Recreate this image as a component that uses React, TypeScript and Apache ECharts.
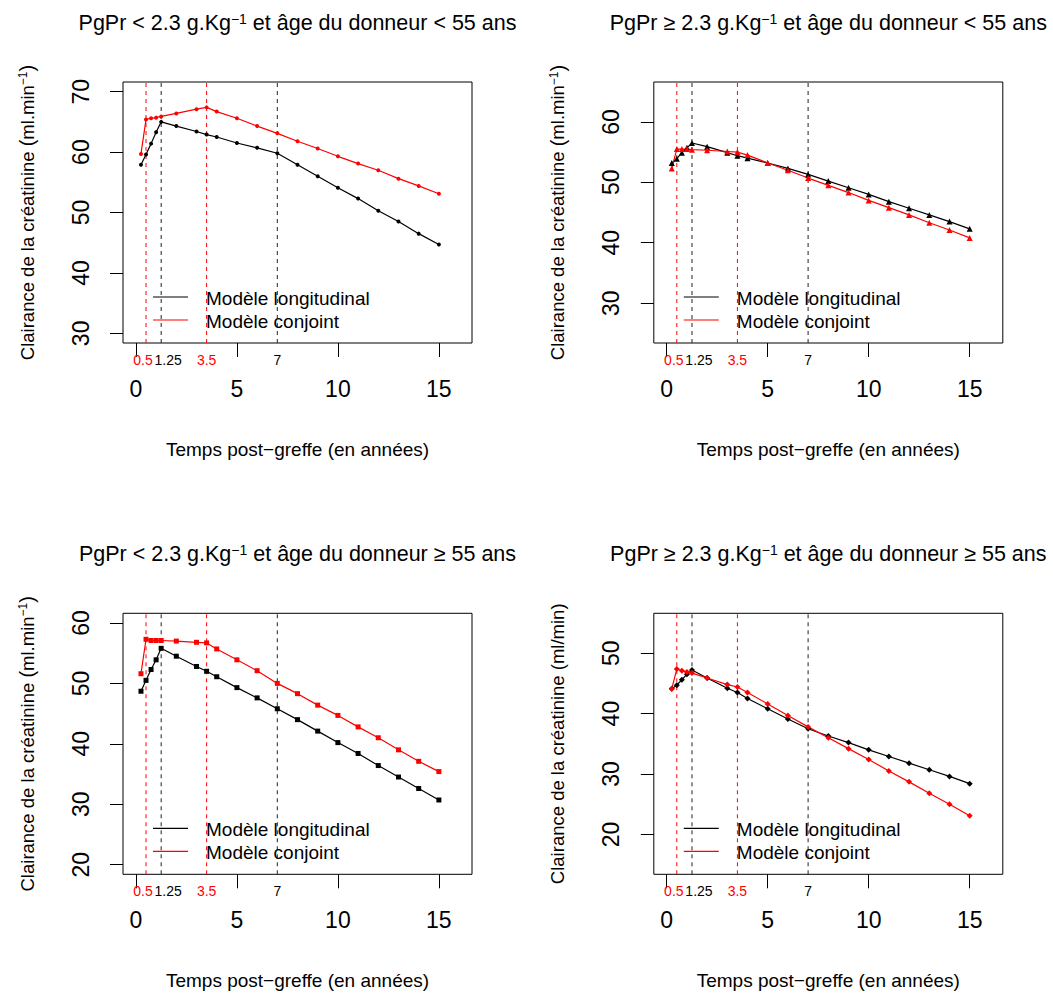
import React, { useEffect, useRef } from 'react';
import * as echarts from 'echarts';

// ---------------- data ----------------
const times = [0.25, 0.5, 0.75, 1, 1.25, 2, 3, 3.5, 4, 5, 6, 7, 8, 9, 10, 11, 12, 13, 14, 15];

const longitudinal1 = [57.9, 59.6, 61.4, 63.3, 65.0, 64.3, 63.4, 62.9, 62.5, 61.5, 60.7, 59.8, 57.9, 56.0, 54.1, 52.3, 50.3, 48.5, 46.5, 44.7];
const conjoint1 = [59.7, 65.4, 65.6, 65.7, 65.9, 66.4, 67.1, 67.4, 66.7, 65.6, 64.3, 63.1, 61.8, 60.6, 59.3, 58.1, 57.0, 55.6, 54.4, 53.1];
const longitudinal2 = [53.2, 53.9, 54.9, 55.7, 56.5, 55.9, 54.9, 54.4, 54.0, 53.2, 52.3, 51.3, 50.2, 49.1, 48.0, 46.8, 45.7, 44.6, 43.5, 42.3];
const conjoint2 = [52.3, 55.5, 55.5, 55.5, 55.4, 55.3, 55.1, 55.0, 54.5, 53.2, 52.0, 50.7, 49.5, 48.3, 47.0, 45.8, 44.6, 43.3, 42.1, 40.8];
const longitudinal3 = [48.7, 50.5, 52.3, 53.9, 55.8, 54.5, 52.8, 52.0, 51.1, 49.3, 47.6, 45.8, 44.0, 42.1, 40.2, 38.4, 36.4, 34.5, 32.6, 30.7];
const conjoint3 = [51.6, 57.3, 57.1, 57.1, 57.1, 57.0, 56.8, 56.7, 55.7, 53.9, 52.1, 50.0, 48.3, 46.4, 44.7, 42.8, 41.0, 39.0, 37.1, 35.4];
const longitudinal4 = [44.1, 44.7, 45.6, 46.5, 47.2, 45.9, 44.2, 43.5, 42.5, 40.8, 39.1, 37.5, 36.3, 35.2, 34.0, 32.9, 31.8, 30.7, 29.6, 28.4];
const conjoint4 = [44.1, 47.4, 47.1, 46.9, 46.7, 45.9, 44.8, 44.4, 43.5, 41.6, 39.7, 37.8, 36.0, 34.2, 32.4, 30.5, 28.7, 26.8, 25.0, 23.1];

const longitudinalSeries = [longitudinal1, longitudinal2, longitudinal3, longitudinal4];
const conjointSeries = [conjoint1, conjoint2, conjoint3, conjoint4];

const seriesNames = ['Modèle longitudinal', 'Modèle conjoint'];
const jointKnots = [0.5, 3.5];
const longKnots = [1.25, 7];

const xDomain = [0, 16];
const yDomains = [[30, 70], [25, 65], [20, 60], [15, 55]];
const xTickValues = [0, 5, 10, 15];
const yTickValues = [
  [30, 40, 50, 60, 70],
  [30, 40, 50, 60],
  [20, 30, 40, 50, 60],
  [20, 30, 40, 50],
];

const pgprSigns = ['<', '≥', '<', '≥'];
const ageSigns = ['<', '<', '≥', '≥'];
const yUnitBase = ['ml.min', 'ml.min', 'ml.min', 'ml/min'];
const yUnitExp = ['−1', '−1', '−1', ''];
const yTitleText = 'Clairance de la créatinine';
const xTitleText = 'Temps post−greffe (en années)';

// ---------------- styles / layout ----------------
const FONT = "'Liberation Sans', Arial, Helvetica, sans-serif";
const RED = '#FF0000';
const BLACK = '#000000';
const DASH_BLACK = '#222222';
const markerSymbols = ['circle', 'triangle', 'rect', 'diamond'];
const markerSizes = [4, 6, 5, 6];

const GRID_LEFT = 123;
const GRID_TOP = 82;
const GRID_W = 349;
const GRID_H = 261;
const COL_STEP = 530.8;
const ROW_STEP = 531.3;

const extend = (a: number, b: number) => [a - 0.04 * (b - a), b + 0.04 * (b - a)];

function buildOption() {
  const grids: any[] = [];
  const xAxes: any[] = [];
  const yAxes: any[] = [];
  const series: any[] = [];
  const graphics: any[] = [];

  const knots = [...jointKnots, ...longKnots].sort((a, b) => a - b);
  const [xmin, xmax] = extend(xDomain[0], xDomain[1]);

  for (let i = 0; i < 4; i++) {
    const col = i % 2;
    const row = Math.floor(i / 2);
    const ox = col * COL_STEP;
    const oy = row * ROW_STEP;
    const [ymin, ymax] = extend(yDomains[i][0], yDomains[i][1]);

    grids.push({
      left: GRID_LEFT + ox,
      top: GRID_TOP + oy,
      width: GRID_W,
      height: GRID_H,
      show: true,
      borderColor: BLACK,
      borderWidth: 1,
      backgroundColor: 'transparent',
      containLabel: false,
      outerBoundsMode: 'none',
    });

    xAxes.push({
      gridIndex: i,
      type: 'value',
      min: xmin,
      max: xmax,
      position: 'bottom',
      axisLine: { show: false, onZero: false },
      splitLine: { show: false },
      axisTick: { show: true, customValues: xTickValues, length: 14, lineStyle: { color: BLACK, width: 1 } },
      axisLabel: {
        show: true,
        customValues: xTickValues,
        fontSize: 23,
        fontFamily: FONT,
        color: BLACK,
        margin: 34,
        formatter: (v: number) => String(v),
      },
    });

    xAxes.push({
      gridIndex: i,
      type: 'value',
      min: xmin,
      max: xmax,
      position: 'bottom',
      axisLine: { show: false, onZero: false },
      splitLine: { show: false },
      axisTick: { show: false },
      axisLabel: {
        show: true,
        customValues: knots,
        margin: 10,
        formatter: (v: number) => {
          const val = Number(v);
          const isJoint = jointKnots.indexOf(val) >= 0;
          const idx = knots.indexOf(val);
          const nearRight = idx < knots.length - 1 && knots[idx + 1] - val < 1;
          const nearLeft = idx > 0 && val - knots[idx - 1] < 1;
          const base = isJoint ? 'r' : 'k';
          const suffix = nearRight ? 'L' : nearLeft ? 'R' : '';
          return `{${base}${suffix}|${String(val)}}`;
        },
        rich: {
          r: { color: RED, fontSize: 14, fontFamily: FONT },
          rL: { color: RED, fontSize: 14, fontFamily: FONT, padding: [0, 6, 0, 0] },
          rR: { color: RED, fontSize: 14, fontFamily: FONT, padding: [0, 0, 0, 14] },
          k: { color: BLACK, fontSize: 14, fontFamily: FONT },
          kL: { color: BLACK, fontSize: 14, fontFamily: FONT, padding: [0, 6, 0, 0] },
          kR: { color: BLACK, fontSize: 14, fontFamily: FONT, padding: [0, 0, 0, 14] },
        },
      },
    });

    yAxes.push({
      gridIndex: i,
      type: 'value',
      min: ymin,
      max: ymax,
      position: 'left',
      axisLine: { show: false, onZero: false },
      splitLine: { show: false },
      axisTick: { show: true, customValues: yTickValues[i], length: 13, lineStyle: { color: BLACK, width: 1 } },
      axisLabel: {
        show: true,
        customValues: yTickValues[i],
        rotate: 90,
        fontSize: 23,
        fontFamily: FONT,
        color: BLACK,
        margin: 31,
        formatter: (v: number) => String(v),
      },
    });

    // vertical dashed reference lines at the knots, as two-point line series
    const knotGroups: [number[], string][] = [
      [longKnots, DASH_BLACK],
      [jointKnots, RED],
    ];
    knotGroups.forEach(([ks, color]) => {
      ks.forEach((k) => {
        series.push({
          type: 'line',
          xAxisIndex: 2 * i,
          yAxisIndex: i,
          data: [
            [k, ymin],
            [k, ymax],
          ],
          symbol: 'none',
          silent: true,
          lineStyle: { color, width: 1, type: [4, 4] },
          itemStyle: { color },
          emphasis: { disabled: true },
          z: 1,
        });
      });
    });

    series.push({
      type: 'line',
      name: seriesNames[0],
      xAxisIndex: 2 * i,
      yAxisIndex: i,
      data: times.map((t, j) => [t, longitudinalSeries[i][j]]),
      symbol: markerSymbols[i],
      symbolSize: markerSizes[i],
      showSymbol: true,
      lineStyle: { color: BLACK, width: 1.2 },
      itemStyle: { color: BLACK },
      emphasis: { disabled: true },
      z: 3,
    });
    series.push({
      type: 'line',
      name: seriesNames[1],
      xAxisIndex: 2 * i,
      yAxisIndex: i,
      data: times.map((t, j) => [t, conjointSeries[i][j]]),
      symbol: markerSymbols[i],
      symbolSize: markerSizes[i],
      showSymbol: true,
      lineStyle: { color: RED, width: 1.2 },
      itemStyle: { color: RED },
      emphasis: { disabled: true },
      z: 3,
    });

    const cx = GRID_LEFT + ox + GRID_W / 2;
    const cy = GRID_TOP + oy + GRID_H / 2;

    // panel title
    graphics.push({
      type: 'text',
      x: cx,
      y: 23 + oy,
      silent: true,
      style: {
        text: `{n|PgPr ${pgprSigns[i]} 2.3 g.Kg}{s|−1}{n| et âge du donneur ${ageSigns[i]} 55 ans}`,
        align: 'center',
        verticalAlign: 'middle',
        fill: BLACK,
        rich: {
          n: { fontSize: 21.5, fontFamily: FONT, fill: BLACK },
          s: { fontSize: 14, fontFamily: FONT, fill: BLACK, verticalAlign: 'top' },
        },
      },
    });

    // y title
    const yTitle = yUnitExp[i]
      ? `{n|${yTitleText} }{p|(}{n|${yUnitBase[i]}}{s|${yUnitExp[i]}}{p|)}`
      : `{n|${yTitleText} (${yUnitBase[i]})}`;
    graphics.push({
      type: 'text',
      x: 27 + ox,
      y: cy,
      rotation: Math.PI / 2,
      silent: true,
      style: {
        text: yTitle,
        align: 'center',
        verticalAlign: 'middle',
        fill: BLACK,
        rich: {
          n: { fontSize: 18.5, fontFamily: FONT, fill: BLACK },
          p: { fontSize: 20, fontFamily: FONT, fill: BLACK },
          s: { fontSize: 12, fontFamily: FONT, fill: BLACK, verticalAlign: 'top' },
        },
      },
    });

    // x title
    graphics.push({
      type: 'text',
      x: cx,
      y: 449 + oy,
      silent: true,
      style: {
        text: xTitleText,
        align: 'center',
        verticalAlign: 'middle',
        fill: BLACK,
        fontSize: 19,
        fontFamily: FONT,
      },
    });

    // legend
    const legendColors = [BLACK, RED];
    seriesNames.forEach((name, k) => {
      const ly = 297 + k * 23 + oy;
      graphics.push({
        type: 'line',
        silent: true,
        shape: { x1: 153 + ox, y1: ly, x2: 188 + ox, y2: ly },
        style: { stroke: legendColors[k], lineWidth: 1.2 },
      });
      graphics.push({
        type: 'text',
        x: 206 + ox,
        y: ly + 1,
        silent: true,
        style: {
          text: name,
          align: 'left',
          verticalAlign: 'middle',
          fill: BLACK,
          fontSize: 19,
          fontFamily: FONT,
        },
      });
    });
  }

  return {
    animation: false,
    backgroundColor: '#FFFFFF',
    grid: grids,
    xAxis: xAxes,
    yAxis: yAxes,
    series,
    graphic: graphics,
  };
}

export default function App() {
  const ref = useRef<HTMLDivElement>(null);
  useEffect(() => {
    if (!ref.current) return;
    const chart = echarts.init(ref.current, undefined, { renderer: 'svg' });
    chart.setOption(buildOption() as any);
    return () => chart.dispose();
  }, []);
  return (
    <div
      ref={ref}
      style={{ position: 'absolute', left: 0, top: 0, width: 1053, height: 993, background: '#fff' }}
    />
  );
}
